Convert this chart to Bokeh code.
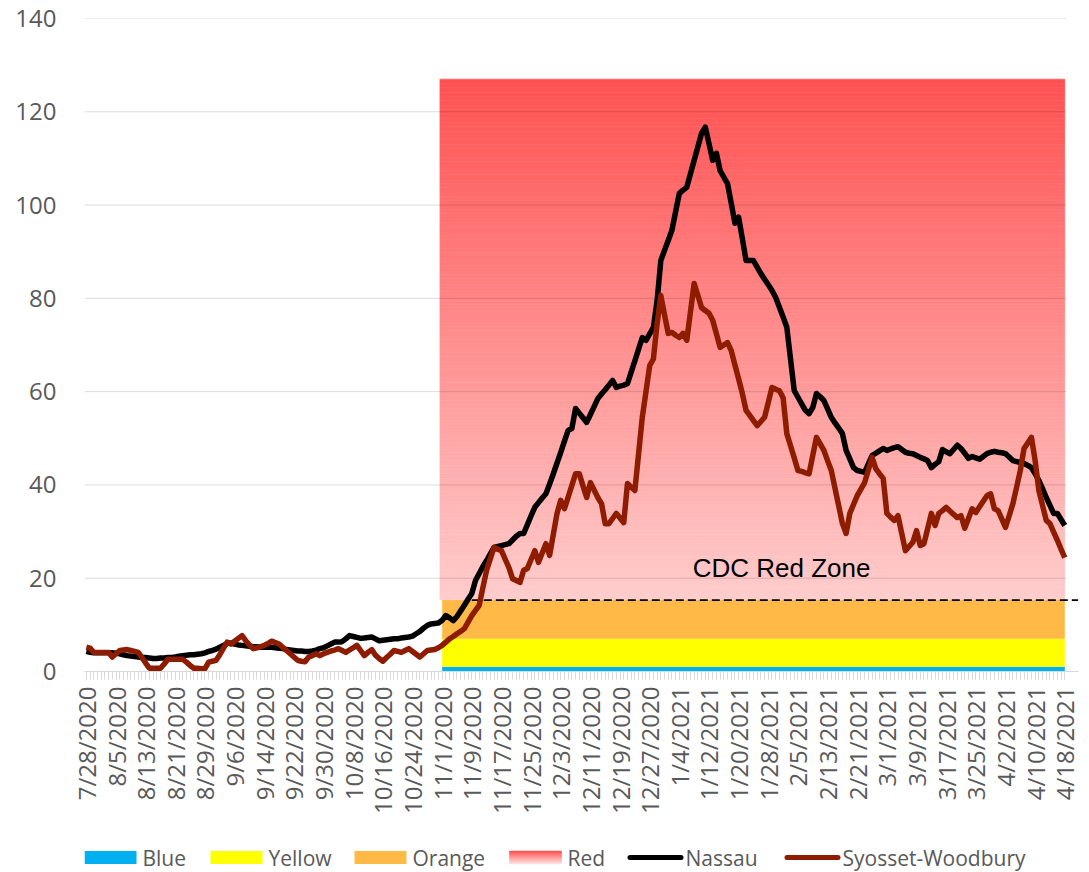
import math
import numpy as np
import pandas as pd
from bokeh.plotting import figure
from bokeh.layouts import column
from bokeh.models import Range1d, FixedTicker, Label
from bokeh.core.properties import value
from bokeh.embed import file_html
from bokeh.resources import INLINE

# ---------------- data ----------------
start_date = "2020-07-28"
n_days = 265
dates = pd.date_range(start_date, periods=n_days, freq="D")
date_labels = [f"{d.month}/{d.day}/{d.year}" for d in dates]

nassau = [
    4.3, 4.1, 4.0, 4.0, 4.0, 4.0, 4.0, 4.0, 3.9, 3.8,
    3.6, 3.4, 3.3, 3.2, 3.1, 3.0, 3.0, 2.9, 2.8, 2.8,
    2.9, 2.9, 3.0, 3.0, 3.1, 3.3, 3.4, 3.5, 3.6, 3.6,
    3.7, 3.8, 4.0, 4.3, 4.5, 4.8, 5.2, 5.6, 6.0, 6.1,
    5.9, 5.7, 5.6, 5.5, 5.4, 5.3, 5.3, 5.2, 5.2, 5.2,
    5.2, 5.1, 5.0, 4.9, 4.7, 4.6, 4.5, 4.4, 4.4, 4.3,
    4.3, 4.4, 4.6, 4.9, 5.1, 5.5, 5.9, 6.3, 6.3, 6.4,
    7.0, 7.7, 7.5, 7.3, 7.1, 7.2, 7.3, 7.4, 7.0, 6.6,
    6.7, 6.8, 6.9, 7.0, 7.0, 7.2, 7.3, 7.4, 7.6, 8.1,
    8.6, 9.3, 9.9, 10.2, 10.3, 10.4, 11.0, 12.0, 11.5, 10.9,
    11.8, 13.0, 14.2, 15.5, 16.7, 19.5, 21.0, 22.5, 23.8, 25.2,
    26.6, 26.8, 27.0, 27.2, 27.4, 28.2, 29.0, 29.6, 29.6, 31.5,
    33.4, 35.2, 36.2, 37.2, 38.1, 40.2, 42.4, 44.7, 47.0, 49.4,
    51.7, 52.1, 56.4, 55.4, 54.4, 53.4, 55.1, 56.8, 58.5, 59.5,
    60.4, 61.4, 62.4, 60.9, 61.2, 61.4, 61.7, 64.2, 66.6, 69.1,
    71.6, 71.0, 72.4, 73.8, 79.5, 88.1, 90.3, 92.4, 94.6, 98.6,
    102.5, 103.2, 103.8, 106.7, 109.6, 112.5, 115.4, 116.7, 113.2, 109.6,
    111.1, 107.4, 106.0, 104.6, 100.4, 96.1, 97.4, 92.8, 88.1, 88.1,
    88.1, 86.7, 85.3, 84.1, 82.9, 81.7, 80.2, 78.1, 76.0, 73.8,
    67.0, 60.2, 58.8, 57.4, 56.0, 55.3, 56.6, 59.6, 58.9, 58.1,
    56.3, 54.5, 53.3, 52.2, 51.0, 47.4, 45.6, 43.7, 43.1, 42.9,
    42.7, 44.5, 46.3, 46.8, 47.3, 47.8, 47.4, 47.7, 48.0, 48.2,
    47.6, 47.0, 46.8, 46.7, 46.3, 45.9, 45.6, 45.2, 43.7, 44.4,
    45.0, 47.6, 47.1, 46.7, 47.6, 48.5, 47.8, 46.8, 45.7, 46.1,
    45.8, 45.5, 46.1, 46.7, 47.0, 47.2, 47.0, 46.9, 46.7, 46.0,
    45.2, 45.0, 44.8, 44.6, 44.2, 43.7, 42.4, 41.0, 39.2, 37.3,
    35.6, 33.9, 33.9, 32.6, 31.3,
]

syosset = [
    5.2, 5.0, 4.1, 4.1, 4.1, 4.1, 4.1, 3.1, 3.8, 4.5,
    4.6, 4.7, 4.5, 4.3, 4.1, 3.0, 1.8, 0.7, 0.7, 0.7,
    0.7, 1.6, 2.6, 2.6, 2.6, 2.6, 2.6, 2.0, 1.3, 0.7,
    0.7, 0.6, 0.6, 2.0, 2.2, 2.4, 3.6, 5.0, 6.3, 5.9,
    6.5, 7.1, 7.7, 6.6, 5.7, 4.9, 5.1, 5.3, 5.6, 6.0,
    6.5, 6.2, 5.9, 5.2, 4.5, 3.8, 3.1, 2.4, 2.2, 2.1,
    3.1, 3.4, 3.8, 3.4, 3.8, 4.1, 4.4, 4.6, 4.9, 4.5,
    4.1, 4.6, 5.1, 5.6, 4.5, 3.4, 4.1, 4.7, 3.5, 2.8,
    2.2, 3.0, 3.7, 4.5, 4.3, 4.1, 4.5, 4.9, 4.3, 3.7,
    3.1, 3.8, 4.5, 4.6, 4.7, 5.1, 5.6, 6.3, 7.0, 7.5,
    8.1, 8.6, 9.2, 10.6, 12.0, 13.1, 14.2, 18.0, 21.7, 24.2,
    26.6, 26.2, 25.9, 24.1, 22.3, 19.9, 19.5, 19.1, 21.7, 22.1,
    24.0, 25.9, 23.4, 25.4, 27.4, 24.9, 29.4, 33.9, 36.7, 34.9,
    37.4, 39.9, 42.4, 42.4, 39.8, 37.3, 40.5, 38.9, 37.3, 36.0,
    31.7, 31.7, 32.8, 33.9, 32.9, 31.9, 40.3, 39.5, 38.8, 46.6,
    54.5, 60.0, 65.6, 67.0, 74.6, 80.6, 76.5, 72.5, 72.7, 72.1,
    71.6, 72.5, 71.0, 77.1, 83.2, 80.6, 78.0, 77.4, 76.8, 75.3,
    72.4, 69.5, 70.0, 70.5, 68.8, 65.7, 62.7, 59.6, 56.0, 54.9,
    53.8, 52.7, 53.6, 54.5, 57.7, 60.9, 60.5, 60.2, 58.7, 51.0,
    48.4, 45.8, 43.1, 42.9, 42.6, 42.4, 46.3, 50.2, 48.8, 47.4,
    45.2, 43.1, 39.3, 35.5, 31.7, 29.6, 33.9, 35.8, 37.7, 39.1,
    40.5, 43.2, 45.9, 43.5, 42.4, 41.4, 33.9, 33.1, 32.4, 33.4,
    29.6, 25.9, 26.8, 27.7, 30.2, 27.0, 27.4, 30.6, 33.9, 31.3,
    33.9, 34.5, 35.2, 34.4, 33.7, 33.0, 33.4, 30.7, 32.8, 34.9,
    34.1, 35.3, 36.5, 37.7, 38.1, 34.9, 34.5, 32.7, 30.9, 33.4,
    36.0, 39.5, 43.1, 47.8, 49.0, 50.2, 45.2, 38.8, 35.6, 32.4,
    31.7, 29.9, 28.1, 26.2, 24.4,
]

band_names = ["Blue", "Yellow", "Orange", "Red"]
band_bottom = [0, 1, 7, 15.4]
band_top = [1, 7, 15.4, 127]
band_colors = ["#00B0F0", "#FFFF00", "#FFB946"]
band_start = "11/1/2020"
band_end = "4/18/2021"

series_names = ["Nassau", "Syosset-Woodbury"]
series_colors = ["#000000", "#8E1C00"]

red_zone_level = 15.3
red_zone_start = "11/9/2020"
red_zone_text = "CDC Red Zone"

y_ticks = [0, 20, 40, 60, 80, 100, 120, 140]

# ---------------- styling helpers ----------------
n = len(dates)
xs = list(range(n))
FONT = "Liberation Sans"
TICKFONT = "Open Sans"
GRAY = "#595959"
W = 1081
H_MAIN = 832
H_LEG = 40
BL, BR = 84, 3          # left/right borders shared by both figures


def red_gradient(n_steps, light, dark):
    cols = []
    for k in range(n_steps):
        t = (k + 0.5) / n_steps
        g = int(round(light + (dark - light) * t))
        cols.append(f"#ff{g:02x}{g:02x}")
    return cols


# ---------------- main figure ----------------
p = figure(width=W, height=H_MAIN, title=None,
           x_range=Range1d(-0.5, n - 1 + 3.7), y_range=Range1d(0, 140),
           output_backend="svg", toolbar_location=None,
           min_border_left=BL, min_border_right=BR, min_border_top=18,
           min_border_bottom=H_MAIN - 671)
p.outline_line_color = None
p.xgrid.visible = False
p.ygrid.visible = False

b0 = date_labels.index(band_start)
b1 = date_labels.index(band_end)

for i in range(3):
    p.quad(left=b0, right=b1, bottom=band_bottom[i], top=band_top[i],
           fill_color=band_colors[i], line_color=None)

# red band with vertical colour gradient (thin strips)
n_strips = 120
edges = np.linspace(band_bottom[3], band_top[3], n_strips + 1)
strip_cols = red_gradient(n_strips, 205, 80)
p.quad(left=b0 - 0.6, right=b1, bottom=list(edges[:-1]), top=list(edges[1:]),
       fill_color=strip_cols, line_color=strip_cols, line_width=0.6)

# horizontal gridlines (over the bands, semi-transparent)
p.segment(x0=-0.5, x1=n - 0.5, y0=y_ticks[1:], y1=y_ticks[1:],
          line_color="#000000", line_alpha=0.14, line_width=1)

# dashed red-zone threshold line
z0 = date_labels.index(red_zone_start)
p.segment(x0=z0, x1=n - 1 + 3.6, y0=red_zone_level, y1=red_zone_level,
          line_color="black", line_width=1.8, line_dash="8 4")

p.line(xs, nassau, line_color=series_colors[0], line_width=5.5, line_join="round")
p.line(xs, syosset, line_color=series_colors[1], line_width=5.5, line_join="round")

p.add_layout(Label(x=163.6, y=22.1, text=red_zone_text, text_font=FONT,
                   text_font_size="26px", text_color="black",
                   text_baseline="middle", text_align="left"))

xa = p.xaxis[0]
xa.ticker = FixedTicker(ticks=list(range(0, n, 8)), minor_ticks=list(range(n)))
xa.major_label_overrides = {i: date_labels[i] for i in range(0, n, 8)}
xa.major_label_orientation = math.pi / 2
xa.major_label_text_font = TICKFONT
xa.major_label_text_font_size = "24px"
xa.major_label_text_color = GRAY
xa.major_label_standoff = 7
xa.axis_line_color = "#D9D9D9"
xa.major_tick_line_color = "#D9D9D9"
xa.minor_tick_line_color = "#D9D9D9"
xa.major_tick_out = 8
xa.major_tick_in = 0
xa.minor_tick_out = 8
xa.minor_tick_in = 0

ya = p.yaxis[0]
ya.ticker = FixedTicker(ticks=y_ticks)
ya.axis_line_color = None
ya.major_tick_line_color = None
ya.minor_tick_line_color = None
ya.major_label_standoff = 22
ya.major_label_text_font = TICKFONT
ya.major_label_text_font_size = "24px"
ya.major_label_text_color = GRAY

# ---------------- legend strip (separate figure, page-pixel coordinates) ----------------
lf = figure(width=W, height=H_LEG, title=None,
            x_range=Range1d(BL, W - BR), y_range=Range1d(H_LEG, 0),
            x_axis_location=None, y_axis_location=None,
            output_backend="svg", toolbar_location=None,
            min_border_left=BL, min_border_right=BR, min_border_top=0, min_border_bottom=0)
lf.outline_line_color = None
lf.xgrid.visible = False
lf.ygrid.visible = False

legend_labels = band_names + series_names
sw_x = [84, 210, 354, 509, 627, 784]   # swatch left edges (page px)
sw_w = 52
yc = 25                                # legend centre line (px from strip top)
sw_h = 13

for i in range(3):
    lf.quad(left=sw_x[i], right=sw_x[i] + sw_w, top=yc - sw_h / 2, bottom=yc + sw_h / 2,
            fill_color=band_colors[i], line_color=None)
# gradient swatch for "Red"
g_n = 13
g_edges = np.linspace(yc + sw_h / 2, yc - sw_h / 2, g_n + 1)
g_cols = red_gradient(g_n, 232, 80)
lf.quad(left=sw_x[3], right=sw_x[3] + sw_w, bottom=list(g_edges[:-1]), top=list(g_edges[1:]),
        fill_color=g_cols, line_color=g_cols, line_width=0.5)
for j in range(2):
    x0 = sw_x[4 + j]
    lf.segment(x0=x0 + 2.5, x1=x0 + sw_w + 1.5, y0=yc, y1=yc,
               line_color=series_colors[j], line_width=5, line_cap="round")

lf.text(x=[x + sw_w + 6 for x in sw_x], y=[yc] * len(legend_labels), text=legend_labels,
        text_font=value(TICKFONT), text_font_size="21px", text_color=GRAY,
        text_baseline="middle", text_align="left")

layout = column(p, lf, spacing=0)
open("out.html", "w").write(file_html(layout, INLINE))
